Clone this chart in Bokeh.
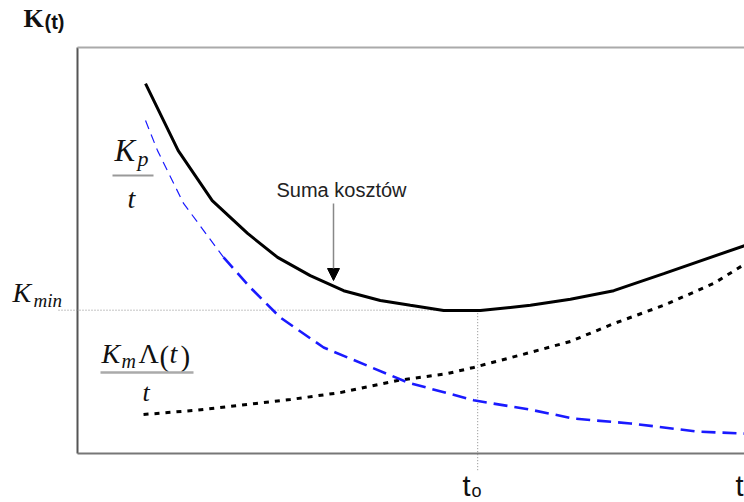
from bokeh.plotting import figure
from bokeh.models import Range1d, Arrow, NormalHead
from bokeh.core.properties import value
from bokeh.embed import file_html
from bokeh.resources import INLINE

# ---- data (t in model units, K in model units) ----
sum_t = [1.02, 1.51, 2.02, 2.55, 3.00, 3.49, 3.99, 4.54, 4.99, 5.49, 6.04, 6.79, 7.39, 8.04, 8.79, 10.0]
sum_k = [9.11, 7.46, 6.23, 5.42, 4.83, 4.38, 4.01, 3.77, 3.65, 3.52, 3.52, 3.65, 3.80, 4.01, 4.43, 5.12]

kp_t = [1.02, 1.20, 1.59, 2.19, 2.59, 3.04, 3.69, 4.95, 5.94, 6.79, 7.44, 8.29, 9.30, 10.0]
kp_k = [8.20, 7.46, 6.16, 4.83, 4.09, 3.35, 2.61, 1.75, 1.31, 1.08, 0.86, 0.74, 0.54, 0.49]

km_t = [0.99, 1.74, 2.29, 3.19, 3.94, 4.80, 5.55, 5.94, 6.79, 7.39, 8.04, 8.79, 9.54, 10.0]
km_k = [0.96, 1.06, 1.16, 1.33, 1.50, 1.80, 1.97, 2.12, 2.49, 2.76, 3.20, 3.65, 4.19, 4.66]

k_min = 3.53
t_opt = 6.0
t_max = 10.0
k_top = 10.0

# ---- layout helpers (page pixel -> model units, for annotations only) ----
SX, SY = 66.7, 40.6
X0, Y0 = 77, 453
def X(px):
    return (px - X0) / SX
def Y(py):
    return (Y0 - py) / SY

p = figure(width=744, height=502, output_backend="svg", toolbar_location=None,
           x_range=Range1d(X(0), X(744)), y_range=Range1d(Y(502), Y(0)),
           min_border=0, min_border_left=0, min_border_right=0,
           min_border_top=0, min_border_bottom=0)
p.axis.visible = False
p.xgrid.visible = False
p.ygrid.visible = False
p.outline_line_color = None
p.background_fill_color = "white"
p.border_fill_color = "white"

# box
p.segment(x0=[0], y0=[0], x1=[0], y1=[k_top], line_color="#555555", line_width=2)
p.segment(x0=[0], y0=[k_top], x1=[t_max], y1=[k_top], line_color="#aaaaaa", line_width=2)
p.segment(x0=[0], y0=[0], x1=[t_max], y1=[0], line_color="#777777", line_width=2)

# reference lines
p.segment(x0=[X(58)], y0=[k_min], x1=[t_opt], y1=[k_min], line_color="#888888",
          line_width=1, line_dash="1 2")
p.segment(x0=[t_opt], y0=[k_min], x1=[t_opt], y1=[Y(470)], line_color="#888888",
          line_width=1, line_dash="1 2")

# curves
p.line(km_t, km_k, line_color="black", line_width=3, line_dash="5 6")
p.line(kp_t[:4], kp_k[:4], line_color="#1a1aff", line_width=1.2, line_dash="9 6")
p.line(kp_t[3:], kp_k[3:], line_color="#1a1aff", line_width=2.6, line_dash="14 7")
p.line(sum_t, sum_k, line_color="black", line_width=3)

# arrow
p.add_layout(Arrow(end=NormalHead(size=12, fill_color="black", line_color="black"),
                   x_start=X(333), y_start=Y(203), x_end=X(333), y_end=Y(280),
                   line_color="#888888", line_width=1.5))

SERIF = "Liberation Serif"
SANS = "Liberation Sans"

def label(px, py, txt, font, size, style="normal", color="#111111", align="left"):
    # py is the wanted visual baseline; compensate renderer baseline offset
    yy = py - 0.37 * size
    p.text(x=[X(px)], y=[Y(yy)], text=[txt], text_font=value(font),
           text_font_size=f"{size}px", text_font_style=style, text_color=color,
           text_align=align, text_baseline="alphabetic")

# K(t)
label(23, 28, "K", SERIF, 26, "bold")
label(44, 29, "(t)", SANS, 20, "bold")

# Kp / t
label(114, 161, "K", SERIF, 31, "italic")
label(137, 166, "p", SERIF, 22, "italic")
p.segment(x0=[X(112)], y0=[Y(175)], x1=[X(153)], y1=[Y(175)], line_color="#999999", line_width=2)
label(127, 208, "t", SERIF, 28, "italic")

# Kmin
label(12, 302, "K", SERIF, 28, "italic")
label(33, 307, "min", SERIF, 19, "italic")

# Km Λ(t) / t
label(101, 363, "K", SERIF, 28, "italic")
label(121, 368, "m", SERIF, 20, "italic")
label(138, 363, "Λ", SERIF, 28)
label(159, 366, "(", SERIF, 29)
label(169, 363, "t", SERIF, 28, "italic")
label(180, 366, ")", SERIF, 29)
p.segment(x0=[X(100)], y0=[Y(372)], x1=[X(193)], y1=[Y(372)], line_color="#aaaaaa", line_width=2.5)
label(142, 402, "t", SERIF, 26, "italic")

# Suma kosztów
label(276, 197, "Suma kosztów", SANS, 20, color="#222222")

# t_o and t
label(462, 496, "t", SANS, 29)
label(471, 497, "o", SANS, 18)
label(735, 496, "t", SANS, 29)

open("out.html", "w").write(file_html(p, INLINE))
